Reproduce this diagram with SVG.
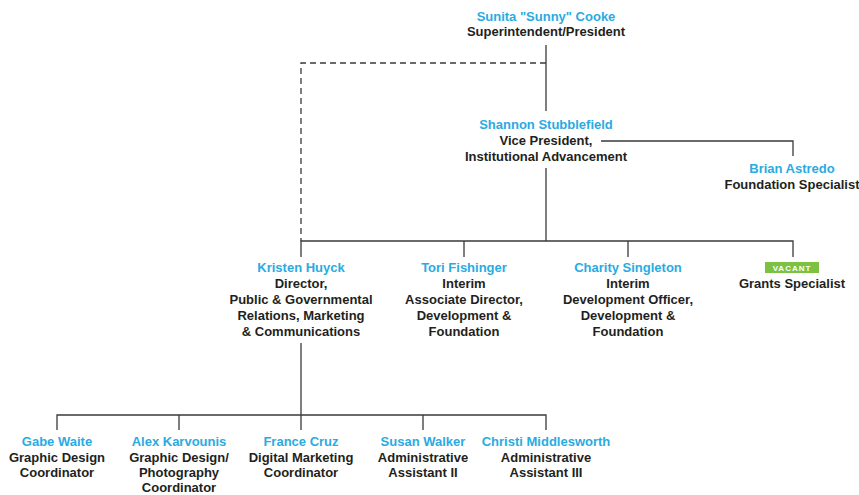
<svg xmlns="http://www.w3.org/2000/svg" width="859" height="495" viewBox="0 0 859 495">
<style>
text{font-family:"Liberation Sans",Arial,sans-serif;font-size:13px;font-weight:bold;text-anchor:middle;fill:#231f20}
.n{fill:#29abe2}
.l{stroke:#3a3a3a;stroke-width:1.3;fill:none}
.d{stroke-dasharray:6,4}
.v{fill:#fff;font-size:8px;letter-spacing:1px}
</style>
<rect width="859" height="495" fill="#fff"/>
<g id="connectors">
<path class="l" d="M546,45V111"/>
<path class="l d" d="M546,63H301V241"/>
<path class="l" d="M601,141H793V156"/>
<path class="l" d="M546,168V241"/>
<path class="l" d="M301,257V241H793V257M464,241V257M628,241V257"/>
<path class="l" d="M301,343V415"/>
<path class="l" d="M57,430V415H546V430M179,415V430M301,415V430M423,415V430"/>
</g>
<g id="cooke"><text x="546" y="21" class="n">Sunita "Sunny" Cooke</text><text x="546" y="36">Superintendent/President</text></g>
<g id="stubblefield"><text x="546" y="129" class="n">Shannon Stubblefield</text><text x="546" y="145">Vice President,</text><text x="546" y="161">Institutional Advancement</text></g>
<g id="astredo"><text x="792" y="173" class="n">Brian Astredo</text><text x="792" y="189">Foundation Specialist</text></g>
<g id="huyck"><text x="301" y="272" class="n">Kristen Huyck</text><text x="301" y="288">Director,</text><text x="301" y="304">Public &amp; Governmental</text><text x="301" y="320">Relations, Marketing</text><text x="301" y="336">&amp; Communications</text></g>
<g id="fishinger"><text x="464" y="272" class="n">Tori Fishinger</text><text x="464" y="288">Interim</text><text x="464" y="304">Associate Director,</text><text x="464" y="320">Development &amp;</text><text x="464" y="336">Foundation</text></g>
<g id="singleton"><text x="628" y="272" class="n">Charity Singleton</text><text x="628" y="288">Interim</text><text x="628" y="304">Development Officer,</text><text x="628" y="320">Development &amp;</text><text x="628" y="336">Foundation</text></g>
<g id="vacant"><rect x="765" y="262" width="54" height="11" fill="#7dc142"/><text x="792" y="271" class="v">VACANT</text><text x="792" y="288">Grants Specialist</text></g>
<g id="waite"><text x="57" y="446" class="n">Gabe Waite</text><text x="57" y="462">Graphic Design</text><text x="57" y="477">Coordinator</text></g>
<g id="karvounis"><text x="179" y="446" class="n">Alex Karvounis</text><text x="179" y="462">Graphic Design/</text><text x="179" y="477">Photography</text><text x="179" y="492">Coordinator</text></g>
<g id="cruz"><text x="301" y="446" class="n">France Cruz</text><text x="301" y="462">Digital Marketing</text><text x="301" y="477">Coordinator</text></g>
<g id="walker"><text x="423" y="446" class="n">Susan Walker</text><text x="423" y="462">Administrative</text><text x="423" y="477">Assistant II</text></g>
<g id="middlesworth"><text x="546" y="446" class="n">Christi Middlesworth</text><text x="546" y="462">Administrative</text><text x="546" y="477">Assistant III</text></g>
</svg>
